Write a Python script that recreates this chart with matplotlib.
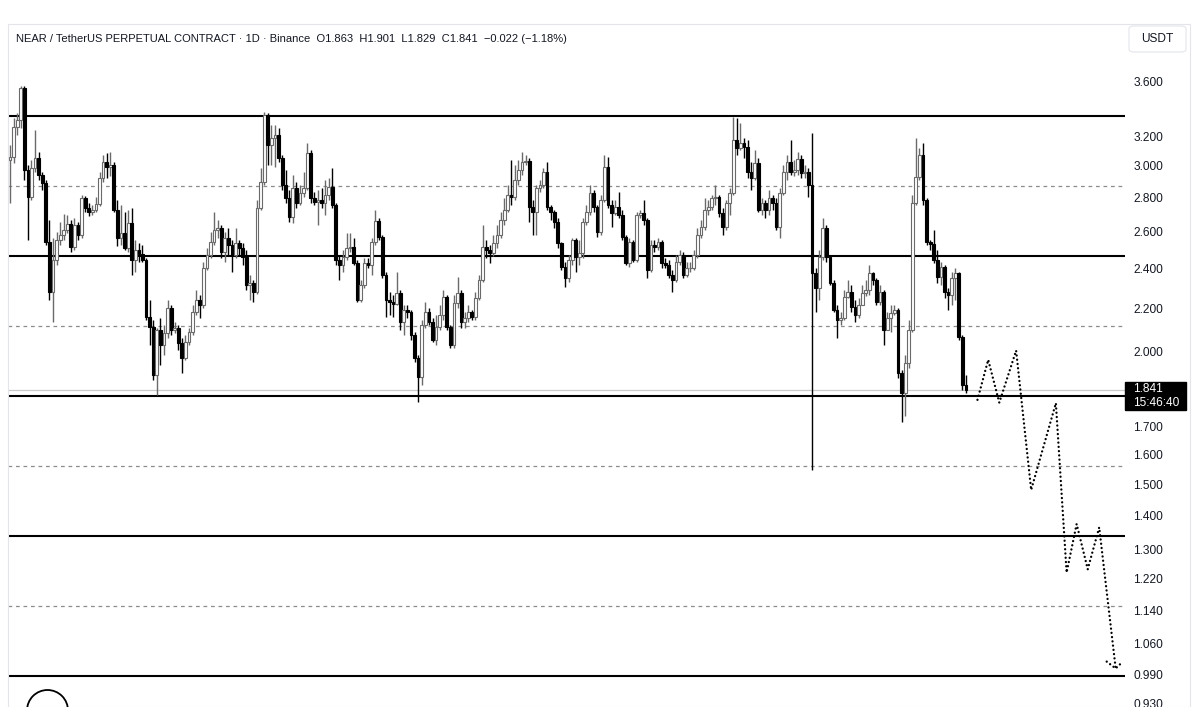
import matplotlib
matplotlib.use("Agg")
import matplotlib.pyplot as plt
from matplotlib.patches import Rectangle, Circle, FancyBboxPatch
from matplotlib.ticker import NullLocator

plt.rcParams['font.family'] = ['Liberation Sans', 'DejaVu Sans']

# ---------------- data (NEAR/USDT daily) ----------------
first_open = 3.038

close = [
    3.058, 3.264, 3.314, 3.553, 2.972, 2.803, 2.985, 3.051, 2.940, 2.889,
    2.541, 2.279, 2.444, 2.552, 2.580, 2.609, 2.643, 2.514, 2.637, 2.580,
    2.797, 2.737, 2.713, 2.725, 2.760, 2.921, 3.025, 2.992, 3.005, 2.725,
    2.563, 2.592, 2.508, 2.649, 2.444, 2.497, 2.476, 2.444, 2.159, 2.112,
    1.903, 2.098, 2.031, 2.085, 2.201, 2.098, 2.108, 2.040, 1.974, 2.044,
    2.089, 2.182, 2.240, 2.216, 2.402, 2.470, 2.541, 2.609, 2.620, 2.486,
    2.563, 2.525, 2.470, 2.536, 2.508, 2.460, 2.314,
    2.324, 2.279, 2.737, 2.896, 3.350, 3.139, 3.187, 3.208, 3.051, 2.877,
    2.797, 2.683, 2.858, 2.766, 2.827, 2.858, 3.085, 2.797, 2.772, 2.785,
    2.766, 2.815, 2.864, 2.754, 2.444, 2.417, 2.460, 2.508, 2.514, 2.428,
    2.240, 2.314, 2.428, 2.417, 2.541, 2.660, 2.569, 2.365, 2.240, 2.230,
    2.221, 2.274, 2.136, 2.192, 2.182, 2.076, 1.974, 1.894, 2.121, 2.182,
    2.136, 2.053, 2.112, 2.168, 2.255, 2.112, 2.031, 2.225, 2.274, 2.136,
    2.154, 2.182, 2.159, 2.250, 2.340, 2.514,
    2.497, 2.481, 2.536, 2.580, 2.666, 2.725, 2.815, 2.803, 2.908, 2.972,
    3.025, 3.031, 2.742, 2.713, 2.858, 2.877, 2.959, 2.742, 2.713, 2.654,
    2.536, 2.407, 2.350, 2.444, 2.552, 2.460, 2.481, 2.654, 2.713, 2.827,
    2.742, 2.597, 2.785, 2.992, 2.754, 2.707, 2.742, 2.695, 2.569, 2.428,
    2.541, 2.444, 2.695, 2.707, 2.666, 2.391, 2.525, 2.514, 2.541, 2.428,
    2.417, 2.365, 2.340, 2.433, 2.470, 2.365, 2.402, 2.402, 2.470, 2.580,
    2.626, 2.725, 2.742, 2.797, 2.803, 2.707, 2.626, 2.766,
    2.827, 3.173, 3.118, 3.153, 3.125, 2.959, 2.921, 3.018, 2.725, 2.766,
    2.725, 2.797, 2.766, 2.626, 2.827, 2.959, 3.025, 2.959, 2.972, 3.045,
    2.953, 2.959, 2.877, 2.375, 2.299, 2.460, 2.620, 2.460, 2.324, 2.192,
    2.145, 2.154, 2.255, 2.279, 2.206, 2.168, 2.216, 2.274, 2.289, 2.375,
    2.340, 2.230, 2.279, 2.098, 2.154, 2.178, 2.192, 1.911, 1.830, 1.953,
    2.098, 2.766, 2.927, 3.071, 2.785, 2.541, 2.530, 2.444, 2.355, 2.407,
    2.279, 2.264, 2.350, 2.375, 2.067, 1.863, 1.841,
]

high = [
    3.139, 3.328, 3.365, 3.569, 3.569, 3.005, 3.038, 3.243, 3.091, 2.959,
    2.908, 2.666, 2.563, 2.597, 2.654, 2.701, 2.695, 2.666, 2.678, 2.654,
    2.815, 2.809, 2.766, 2.754, 2.803, 2.959, 3.071, 3.085, 3.091, 3.025,
    2.785, 2.754, 2.713, 2.725, 2.737, 2.552, 2.536, 2.525, 2.454, 2.240,
    2.145, 2.108, 2.154, 2.121, 2.240, 2.216, 2.136, 2.121, 2.062, 2.076,
    2.108, 2.216, 2.289, 2.264, 2.433, 2.508, 2.597, 2.713, 2.666, 2.637,
    2.597, 2.620, 2.552, 2.620, 2.552, 2.536, 2.497,
    2.365, 2.340, 2.785, 2.985, 3.372, 3.365, 3.278, 3.278, 3.257, 3.071,
    2.972, 2.846, 2.940, 2.896, 2.877, 2.959, 3.153, 3.105, 2.833, 2.846,
    2.858, 2.908, 2.921, 2.985, 2.766, 2.470, 2.497, 2.592, 2.592, 2.563,
    2.444, 2.340, 2.454, 2.454, 2.563, 2.725, 2.678, 2.580, 2.381, 2.279,
    2.264, 2.381, 2.289, 2.216, 2.216, 2.192, 2.089, 1.987, 2.145, 2.230,
    2.201, 2.154, 2.168, 2.216, 2.289, 2.264, 2.121, 2.264, 2.355, 2.289,
    2.182, 2.216, 2.192, 2.279, 2.365, 2.637,
    2.552, 2.525, 2.580, 2.637, 2.713, 2.797, 2.877, 3.038, 3.005, 3.038,
    3.091, 3.071, 3.051, 2.785, 2.877, 2.908, 2.985, 3.025, 2.754, 2.725,
    2.678, 2.541, 2.433, 2.470, 2.563, 2.563, 2.552, 2.678, 2.754, 2.877,
    2.846, 2.754, 2.815, 3.071, 3.058, 2.785, 2.785, 2.833, 2.725, 2.580,
    2.563, 2.552, 2.713, 2.725, 2.785, 2.678, 2.552, 2.552, 2.563, 2.552,
    2.454, 2.444, 2.391, 2.470, 2.497, 2.486, 2.433, 2.433, 2.497, 2.620,
    2.666, 2.797, 2.785, 2.815, 2.877, 2.815, 2.737, 2.785,
    2.858, 3.336, 3.328, 3.292, 3.187, 3.173, 3.025, 3.105, 3.051, 2.797,
    2.785, 2.846, 2.815, 2.797, 2.858, 3.005, 3.071, 3.173, 3.038, 3.091,
    3.071, 3.005, 2.985, 3.222, 2.402, 2.497, 2.678, 2.637, 2.470, 2.340,
    2.216, 2.182, 2.289, 2.340, 2.314, 2.240, 2.250, 2.314, 2.340, 2.417,
    2.381, 2.350, 2.314, 2.289, 2.182, 2.216, 2.216, 2.201, 1.924, 1.987,
    2.145, 2.815, 3.187, 3.118, 3.153, 2.797, 2.552, 2.609, 2.497, 2.433,
    2.417, 2.299, 2.381, 2.402, 2.381, 2.076, 1.901,
]

low = [
    2.766, 3.018, 3.208, 3.257, 2.908, 2.552, 2.785, 2.959, 2.908, 2.846,
    2.525, 2.240, 2.136, 2.417, 2.525, 2.552, 2.592, 2.486, 2.497, 2.552,
    2.563, 2.713, 2.689, 2.695, 2.713, 2.748, 2.896, 2.921, 2.934, 2.713,
    2.519, 2.525, 2.497, 2.486, 2.365, 2.381, 2.433, 2.433, 2.145, 2.031,
    1.882, 1.822, 1.945, 1.987, 2.062, 2.076, 2.085, 2.009, 1.911, 1.966,
    2.031, 2.076, 2.168, 2.154, 2.201, 2.391, 2.454, 2.525, 2.563, 2.454,
    2.433, 2.470, 2.381, 2.454, 2.470, 2.417, 2.289,
    2.240, 2.230, 2.269, 2.725, 2.877, 3.005, 3.005, 2.992, 3.025, 2.846,
    2.766, 2.654, 2.649, 2.737, 2.754, 2.803, 2.846, 2.766, 2.754, 2.637,
    2.737, 2.695, 2.785, 2.737, 2.417, 2.340, 2.381, 2.444, 2.486, 2.417,
    2.230, 2.230, 2.299, 2.402, 2.365, 2.525, 2.552, 2.350, 2.159, 2.168,
    2.159, 2.216, 2.098, 2.076, 2.154, 2.053, 1.957, 1.794, 1.862, 2.108,
    2.121, 2.044, 2.031, 2.098, 2.145, 2.098, 2.018, 2.018, 2.201, 2.108,
    2.108, 2.136, 2.145, 2.145, 2.240, 2.329,
    2.454, 2.428, 2.465, 2.508, 2.563, 2.637, 2.713, 2.754, 2.785, 2.877,
    2.940, 3.005, 2.654, 2.580, 2.580, 2.833, 2.858, 2.725, 2.666, 2.620,
    2.508, 2.391, 2.304, 2.329, 2.417, 2.381, 2.417, 2.454, 2.637, 2.695,
    2.713, 2.569, 2.580, 2.772, 2.737, 2.626, 2.695, 2.678, 2.552, 2.417,
    2.407, 2.433, 2.433, 2.678, 2.637, 2.350, 2.381, 2.486, 2.497, 2.402,
    2.402, 2.350, 2.279, 2.329, 2.417, 2.350, 2.355, 2.381, 2.391, 2.454,
    2.563, 2.609, 2.695, 2.725, 2.754, 2.683, 2.580, 2.609,
    2.695, 2.815, 3.071, 3.105, 3.051, 2.921, 2.846, 2.908, 2.713, 2.695,
    2.678, 2.695, 2.725, 2.609, 2.563, 2.815, 2.908, 2.940, 2.934, 2.940,
    2.921, 2.921, 2.803, 1.547, 2.182, 2.240, 2.444, 2.433, 2.314, 2.182,
    2.062, 2.121, 2.145, 2.250, 2.182, 2.136, 2.154, 2.216, 2.260, 2.264,
    2.314, 2.216, 2.216, 2.031, 2.098, 2.089, 2.168, 1.890, 1.718, 1.740,
    1.932, 2.089, 2.754, 2.908, 2.754, 2.525, 2.497, 2.428, 2.324, 2.314,
    2.250, 2.192, 2.216, 2.240, 2.053, 1.842, 1.829,
]

levels_solid = [3.343, 2.465, 1.818, 1.340, 0.988]
levels_dashed = [2.871, 2.117, 1.561, 1.151]
last_price = 1.841
countdown = "15:46:40"

# projected path (x in bar units, y in price)
proj_x = [270.2, 273.2, 276.3, 281.0, 285.2, 292.1, 295.1, 297.9, 301.0, 304.2, 308.8]
proj_y = [1.802, 1.966, 1.791, 2.006, 1.481, 1.789, 1.237, 1.375, 1.246, 1.365, 1.004]
arrow_x = [306.3, 308.8, 310.8]
arrow_y = [1.019, 1.004, 1.019]

tick_vals = [3.6, 3.2, 3.0, 2.8, 2.6, 2.4, 2.2, 2.0, 1.7, 1.6, 1.5, 1.4, 1.3,
             1.22, 1.14, 1.06, 0.99, 0.93]

title = ("NEAR / TetherUS PERPETUAL CONTRACT \u00b7 1D \u00b7 Binance  O1.863  H1.901  "
         "L1.829  C1.841  \u22120.022 (\u22121.18%)")

# ---------------- figure ----------------
W, H = 1199, 707
fig = plt.figure(figsize=(W / 100, H / 100), dpi=100)
fig.patch.set_facecolor('white')


def fx(px):
    return px / W


def fy(py):
    return 1 - py / H


ax = fig.add_axes([fx(8), 0, fx(1125) - fx(8), 1 - 24 / H])
ax.set_yscale('log')
ax.set_ylim(0.9231, 4.0846)
step = 956 / 267
ax.set_xlim(-2 / step, 1115 / step)
for s in ax.spines.values():
    s.set_visible(False)

# level lines
for lv in levels_solid:
    ax.axhline(lv, color='black', lw=1.5, zorder=1)
for lv in levels_dashed:
    ax.axhline(lv, color='#8c8c8c', lw=0.9, linestyle=(0, (3, 3)), zorder=1)
ax.axhline(last_price, color='#c9c9c9', lw=0.9, zorder=1)

# candles
n = len(close)
xs = list(range(n))
opens = [first_open] + close[:-1]
up = [c >= o for o, c in zip(opens, close)]
wick_cols = ['#6a6a6a' if u else 'black' for u in up]
ax.vlines(xs, low, high, colors=wick_cols, lw=1.0, zorder=2)
bottoms = [min(o, c) for o, c in zip(opens, close)]
heights = [abs(c - o) for o, c in zip(opens, close)]
faces = ['white' if u else 'black' for u in up]
edges = ['#6a6a6a' if u else 'black' for u in up]
ax.bar(xs, heights, bottom=bottoms, width=0.78, color=faces, edgecolor=edges,
       linewidth=0.8, zorder=3)

# projected dotted path
ax.plot(proj_x, proj_y, color='black', lw=1.7, linestyle=(0, (0.01, 1.8)),
        dash_capstyle='round', zorder=4)
ax.plot(arrow_x, arrow_y, color='black', lw=1.7, linestyle=(0, (0.01, 1.8)),
        dash_capstyle='round', zorder=4)

# price scale on the right
ax.yaxis.tick_right()
ax.yaxis.set_minor_locator(NullLocator())
ax.set_yticks(tick_vals)
ax.set_yticklabels([f"{v:.3f}" for v in tick_vals])
ax.tick_params(axis='y', length=0, pad=6, labelsize=8.6, labelcolor='#131722')
ax.set_xticks([])

# outer frame
fig.add_artist(Rectangle((fx(8), fy(707)), fx(1190) - fx(8), (707 - 24) / H,
                         transform=fig.transFigure, fill=False, ec='#e3e5ea', lw=0.8))

# last price label
fig.add_artist(Rectangle((fx(1125), fy(410)), fx(1186) - fx(1125), 28 / H,
                         transform=fig.transFigure, color='black', zorder=10))
fig.text(fx(1133), fy(389), f"{last_price:.3f}", color='white', fontsize=8.6,
         va='center', ha='left', zorder=11)
fig.text(fx(1133), fy(403), countdown, color='white', fontsize=8.6,
         va='center', ha='left', zorder=11)

# currency box
fig.add_artist(FancyBboxPatch((fx(1129), fy(52)), fx(1186) - fx(1129), 26 / H,
                              boxstyle='round,pad=0,rounding_size=0.004',
                              transform=fig.transFigure, fc='white', ec='#e3e5ea', lw=0.8))
fig.text(fx(1157), fy(39), "USDT", color='#131722', fontsize=8.6, va='center', ha='center')

# title
fig.text(fx(16), fy(39), title, color='#131722', fontsize=8.0, va='center', ha='left')

# logo circle at the bottom
fig.add_artist(Circle((0.475, -0.035), 0.205, transform=fig.dpi_scale_trans,
                      fill=False, ec='black', lw=1.3))

fig.savefig("out.png", dpi=100, facecolor='white')
